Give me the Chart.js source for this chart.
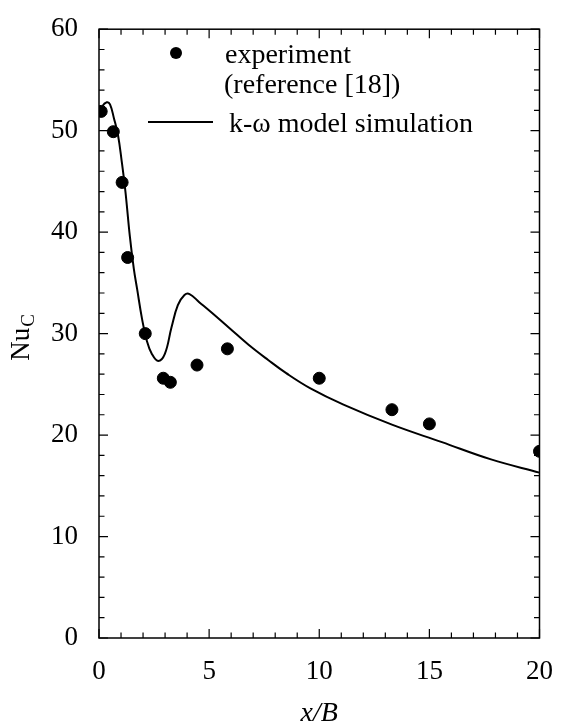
<!DOCTYPE html>
<html>
<head>
<meta charset="utf-8">
<script src="https://cdn.jsdelivr.net/npm/chart.js@4.4.0/dist/chart.umd.min.js"></script>
<style>
  html, body { margin: 0; padding: 0; background: #fff; }
  #wrap { width: 563px; height: 725px; }
</style>
</head>
<body>
<div id="wrap"><canvas id="nu"></canvas></div>
<script>
// experiment (reference [18])
const expX = [0.1, 0.65, 1.05, 1.3, 2.1, 2.92, 3.24, 4.45, 5.83, 10.0, 13.3, 15.0, 20.0]
const expNu = [51.9, 49.9, 44.9, 37.5, 30.0, 25.6, 25.2, 26.9, 28.5, 25.6, 22.5, 21.1, 18.4]

// k-omega model simulation
const simX = [0, 0.15, 0.35, 0.5, 0.68, 0.86, 1.03, 1.2, 1.4, 1.58, 1.73, 1.95, 2.17, 2.4, 2.69, 2.99,
  3.29, 3.58, 3.88, 4.11, 4.55, 5.15, 5.89, 6.79, 7.68, 8.5, 9.6, 11.1, 13.33, 15.57, 17.8, 20]
const simNu = [51.5, 52.4, 52.8, 52.6, 51.2, 49.6, 47.0, 44.0, 39.6, 36.4, 34.4, 31.5, 29.3, 28.0, 27.3, 28.0,
  30.6, 32.8, 33.8, 33.9, 33.1, 32.0, 30.6, 28.9, 27.4, 26.1, 24.6, 23.0, 21.0, 19.3, 17.6, 16.3]

const xTicks = [0, 5, 10, 15, 20]
const yTicks = [0, 10, 20, 30, 40, 50, 60]

const serif = '"Liberation Serif", "DejaVu Serif", serif'

const toPts = (xs, ys) => xs.map((x, i) => ({ x: x, y: ys[i] }))

// frame, inward ticks on all sides, legend and axis titles
const framePlugin = {
  id: 'frame',
  afterDraw(chart) {
    const ctx = chart.ctx
    const a = chart.chartArea
    const xs = chart.scales.x
    const ys = chart.scales.y
    ctx.save()
    ctx.strokeStyle = '#000'
    ctx.lineWidth = 1.5
    ctx.strokeRect(a.left, a.top, a.right - a.left, a.bottom - a.top)

    ctx.lineWidth = 1.2
    ctx.beginPath()
    for (let v = 0; v <= 20; v += 1) {
      const px = xs.getPixelForValue(v)
      const len = v % 5 === 0 ? 9 : 5.5
      ctx.moveTo(px, a.bottom); ctx.lineTo(px, a.bottom - len)
      ctx.moveTo(px, a.top); ctx.lineTo(px, a.top + len)
    }
    for (let v = 0; v <= 60; v += 2) {
      const py = ys.getPixelForValue(v)
      const len = v % 10 === 0 ? 9 : 5.5
      ctx.moveTo(a.left, py); ctx.lineTo(a.left + len, py)
      ctx.moveTo(a.right, py); ctx.lineTo(a.right - len, py)
    }
    ctx.stroke()

    // legend
    ctx.fillStyle = '#000'
    ctx.beginPath()
    ctx.arc(176, 53, 6, 0, Math.PI * 2)
    ctx.fill()
    ctx.lineWidth = 1.8
    ctx.beginPath()
    ctx.moveTo(148, 122); ctx.lineTo(213, 122)
    ctx.stroke()
    ctx.font = '28px ' + serif
    ctx.textAlign = 'left'
    ctx.textBaseline = 'alphabetic'
    ctx.fillText('experiment', 225, 63)
    ctx.fillText('(reference [18])', 224, 93)
    ctx.fillText('k-\u03c9 model simulation', 229, 132)

    // x title
    ctx.font = 'italic 28px ' + serif
    ctx.textAlign = 'center'
    ctx.fillText('x/B', (a.left + a.right) / 2, 721)

    // y title, rotated
    ctx.translate(29, 338)
    ctx.rotate(-Math.PI / 2)
    ctx.textAlign = 'left'
    ctx.font = '27px ' + serif
    const w = ctx.measureText('Nu').width
    ctx.font = '19px ' + serif
    const wc = ctx.measureText('C').width
    const x0 = -(w + wc) / 2
    ctx.font = '27px ' + serif
    ctx.fillText('Nu', x0, 0)
    ctx.font = '19px ' + serif
    ctx.fillText('C', x0 + w + 1, 5)
    ctx.restore()
  }
}

new Chart(document.getElementById('nu'), {
  type: 'scatter',
  data: {
    datasets: [{
      label: 'experiment (reference [18])',
      data: toPts(expX, expNu),
      backgroundColor: '#000',
      borderColor: '#000',
      pointRadius: 6,
      pointHoverRadius: 6,
      showLine: false
    }, {
      label: 'k-\u03c9 model simulation',
      data: toPts(simX, simNu),
      borderColor: '#000',
      borderWidth: 2,
      pointRadius: 0,
      showLine: true,
      tension: 0.4,
      fill: false
    }]
  },
  plugins: [framePlugin],
  options: {
    responsive: true,
    maintainAspectRatio: false,
    animation: false,
    layout: { padding: { top: 20, right: 18, left: 0, bottom: 0 } },
    plugins: {
      legend: { display: false },
      tooltip: { enabled: false }
    },
    scales: {
      x: {
        type: 'linear',
        min: 0,
        max: 20,
        grid: { display: false },
        border: { display: false },
        afterFit(s) { s.height = 87 },
        afterBuildTicks(s) { s.ticks = xTicks.map(v => ({ value: v })) },
        ticks: { color: '#000', padding: 10, maxRotation: 0, font: { family: serif, size: 27 } }
      },
      y: {
        type: 'linear',
        min: 0,
        max: 60,
        grid: { display: false },
        border: { display: false },
        afterFit(s) { s.width = 99 },
        afterBuildTicks(s) { s.ticks = yTicks.map(v => ({ value: v })) },
        ticks: { color: '#000', padding: 13, font: { family: serif, size: 27 } }
      }
    }
  }
})
</script>
</body>
</html>
